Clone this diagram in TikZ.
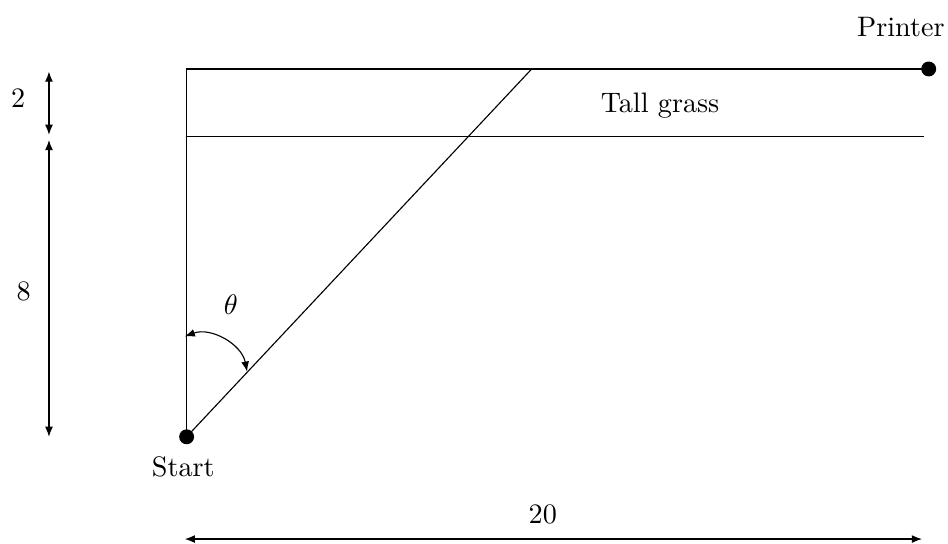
\documentclass[tikz,border=0pt]{standalone}
\usetikzlibrary{arrows.meta}
\begin{document}
\begin{tikzpicture}[x=0.463cm, y=0.459cm, >={Latex[length=3.6pt, width=2.8pt]},
    dot/.style={circle, fill=black, inner sep=0pt, minimum size=5.3pt}]
    \useasboundingbox (-5.03,-2.91) rectangle (20.52,11.875);
    % Start and printer
    \node[dot] (start) at (0,0) {};
    \node (startlabel) at (-0.09,-0.82) {Start};
    \node[dot] (printer) at (20,10) {};
    \node (printerlabel) at (19.25,11.13) {Printer};
    % Field edges
    \coordinate (topleft) at (0,10);
    \coordinate (cross) at (9.3,10);
    \coordinate (grassleft) at (0,8.16);
    \coordinate (grassright) at (19.88,8.16);
    \draw (start.center) -- (topleft) -- (printer.center);
    \draw (grassleft) -- (grassright);
    \draw (start.center) -- (cross);
    \node (grass) at (12.76,9.0) {Tall grass};
    % Angle
    \coordinate (arcstart) at (-0.05,2.73);
    \coordinate (arcend) at (1.63,1.77);
    \draw[<->] (arcstart) to[out=20, in=101] (arcend);
    \node (theta) at (1.19,3.59) {$\theta$};
    % Dimensions on the left
    \coordinate (dimtop) at (-3.71,9.93);
    \coordinate (dimmidA) at (-3.71,8.21);
    \coordinate (dimmidB) at (-3.71,8.07);
    \coordinate (dimbot) at (-3.71,0);
    \draw[<->] (dimtop) -- (dimmidA);
    \draw[<->] (dimmidB) -- (dimbot);
    \node (twolabel) at (-4.54,9.21) {2};
    \node (eightlabel) at (-4.39,3.95) {8};
    % Dimension at the bottom
    \coordinate (widthleft) at (-0.05,-2.78);
    \coordinate (widthright) at (19.82,-2.78);
    \draw[<->] (widthleft) -- (widthright);
    \node (widthlabel) at (9.6,-2.12) {20};
\end{tikzpicture}
\end{document}
